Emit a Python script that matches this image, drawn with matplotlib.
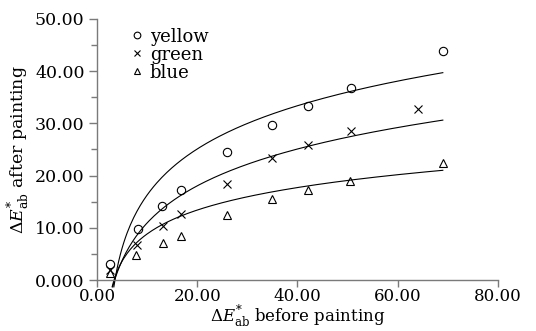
import numpy as np
import matplotlib
matplotlib.use('Agg')
import matplotlib.pyplot as plt

plt.rcParams['font.family'] = ['DejaVu Serif']
plt.rcParams['mathtext.fontset'] = 'dejavuserif'

yellow_x = [2.6, 8.2, 13.0, 16.8, 26.0, 35.0, 42.0, 50.6, 69.0]
yellow_y = [3.0, 9.8, 14.2, 17.3, 24.6, 29.6, 33.3, 36.7, 43.8]
green_x = [2.6, 8.0, 13.2, 16.8, 26.0, 35.0, 42.0, 50.6, 64.0]
green_y = [1.9, 6.8, 10.4, 12.7, 18.3, 23.3, 25.8, 28.5, 32.7]
blue_x = [2.6, 7.8, 13.2, 16.8, 26.0, 35.0, 42.0, 50.4, 69.0]
blue_y = [1.3, 4.8, 7.1, 8.5, 12.5, 15.6, 17.3, 19.0, 22.5]

# log trend lines: y = a*ln(x - c) + b
trend_a = [11.25, 10.1, 5.88]
trend_c = [1.6, 0.2, 1.5]
trend_b = [-7.67, -12.12, -3.76]
trend_start = [3.36, 3.12, 3.02]
trend_end = 69.0

series = ['yellow', 'green', 'blue']
markers = ['o', 'x', '^']

xticks = [0, 20, 40, 60, 80]
xtick_labels = ['0.00', '20.00', '40.00', '60.00', '80.00']
yticks = [0, 10, 20, 30, 40, 50]
ytick_labels = ['0.000', '10.00', '20.00', '30.00', '40.00', '50.00']

fig = plt.figure(figsize=(5.36, 3.31), dpi=100)
ax = fig.add_axes([0.181, 0.154, 0.748, 0.789])

axis_grey = '#7a7a7a'

for a, c, b, x0 in zip(trend_a, trend_c, trend_b, trend_start):
    xs = np.linspace(x0, trend_end, 200)
    ax.plot(xs, a * np.log(xs - c) + b, color='black', lw=0.8, clip_on=False)

data = [(yellow_x, yellow_y), (green_x, green_y), (blue_x, blue_y)]
for (xs, ys), name, m in zip(data, series, markers):
    if m == 'x':
        ax.plot(xs, ys, ls='none', marker=m, ms=6, mew=0.8, color='black', label=name)
    else:
        ax.plot(xs, ys, ls='none', marker=m, ms=6, mew=0.8, mfc='none', mec='black', label=name)

ax.set_xlim(0, 80)
ax.set_ylim(0, 50)
ax.set_xticks(xticks)
ax.set_xticklabels(xtick_labels)
ax.set_yticks(yticks)
ax.set_yticklabels(ytick_labels)
ax.set_yticks([5, 15, 25, 35, 45], minor=True)

for side in ['top', 'right']:
    ax.spines[side].set_visible(False)
for side in ['left', 'bottom']:
    ax.spines[side].set_color(axis_grey)
    ax.spines[side].set_linewidth(1.0)

ax.tick_params(which='major', length=6, width=1.0, color=axis_grey, labelsize=12.5, pad=3)
ax.tick_params(axis='x', which='major', length=5, pad=1, labelsize=12)
ax.tick_params(which='minor', length=4, width=1.0, color=axis_grey)

ax.set_xlabel(r'$\Delta E^{*}_{\mathrm{ab}}$ before painting', fontsize=12, labelpad=-1)
ax.set_ylabel(r'$\Delta E^{*}_{\mathrm{ab}}$ after painting', fontsize=12.5, labelpad=2)

leg = ax.legend(loc='upper left', bbox_to_anchor=(0.055, 1.015), frameon=False, fontsize=13,
                handlelength=0.6, handletextpad=0.4, labelspacing=0.0, borderpad=0.2,
                markerscale=0.8)

fig.savefig('out.png', dpi=100)
